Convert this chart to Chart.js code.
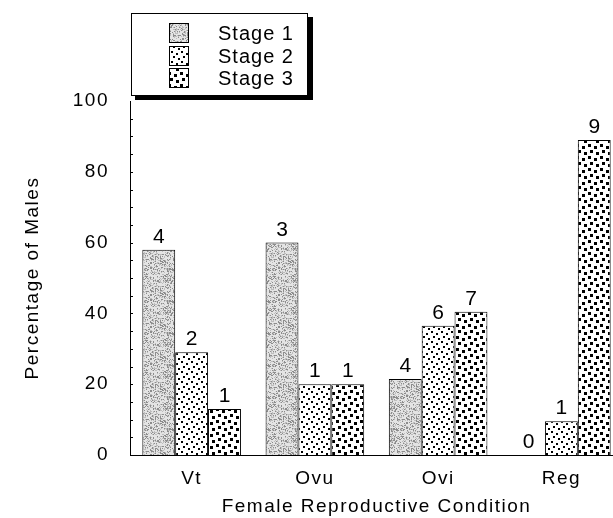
<!DOCTYPE html>
<html>
<head>
<meta charset="utf-8">
<script src="https://cdn.jsdelivr.net/npm/chart.js@4/dist/chart.umd.min.js"></script>
<style>
html, body { margin: 0; padding: 0; background: #fff; overflow: hidden; }
#wrap { width: 623px; height: 518px; }
</style>
</head>
<body>
<div id="wrap"><canvas id="chart"></canvas></div>
<script>
// values
const categories = ["Vt", "Ovu", "Ovi", "Reg"];
const stageNames = ["Stage 1", "Stage 2", "Stage 3"];
const stage1 = [58, 60, 21.5, 0];
const stage2 = [29, 20, 36.5, 9.5];
const stage3 = [13, 20, 40.5, 89];
const counts1 = [4, 3, 4, 0];
const counts2 = [2, 1, 6, 1];
const counts3 = [1, 1, 7, 9];

const FONT = "'Liberation Sans', Arial, sans-serif";

function makePattern(size, bg, draw) {
    let t = document.createElement("canvas");
    t.width = t.height = size;
    let g = t.getContext("2d");
    g.fillStyle = bg;
    g.fillRect(0, 0, size, size);
    draw(g);
    return document.getElementById("chart").getContext("2d").createPattern(t, "repeat");
}

// texture hash (only for the stipple look)
function grain(x, y) {
    let s = Math.sin(x * 12.9898 + y * 78.233) * 43758.5453;
    return s - Math.floor(s);
}

// fine gray stipple
let fillStage1 = makePattern(32, "#e4e4e4", (g) => {
    for (let y = 0; y < 32; y++) {
        for (let x = 0; x < 32; x++) {
            let h = grain(x, y);
            if (h < 0.22) { g.fillStyle = "#8c8c8c"; g.fillRect(x, y, 1, 1); }
            else if (h < 0.45) { g.fillStyle = "#bdbdbd"; g.fillRect(x, y, 1, 1); }
        }
    }
});
// small black dots
let fillStage2 = makePattern(10, "#fff", (g) => {
    g.fillStyle = "#000";
    [[1, 1], [6, 3], [3, 6], [8, 8]].forEach((p) => g.fillRect(p[0], p[1], 2, 2));
});
// bigger black squares
let fillStage3 = makePattern(12, "#fff", (g) => {
    g.fillStyle = "#000";
    [[0, 0], [6, 2], [2, 6], [8, 8]].forEach((p) => g.fillRect(p[0], p[1], 3, 3));
});

const spacing = {
    id: "spacing",
    beforeLayout(chart) { chart.ctx.letterSpacing = "1.5px"; },
    beforeDraw(chart) { chart.ctx.letterSpacing = "1.5px"; }
};

// inward minor ticks every 5 units
const minorTicks = {
    id: "minorTicks",
    afterDraw(chart) {
        let ctx = chart.ctx, y = chart.scales.y, x0 = chart.chartArea.left;
        ctx.save();
        ctx.strokeStyle = "#000";
        ctx.lineWidth = 1;
        for (let v = 5; v < 100; v += 5) {
            let py = Math.round(y.getPixelForValue(v)) + 0.5;
            ctx.beginPath();
            ctx.moveTo(x0, py);
            ctx.lineTo(x0 + 3, py);
            ctx.stroke();
        }
        ctx.restore();
    }
};

// counts above the bars
const barCounts = {
    id: "barCounts",
    afterDatasetsDraw(chart) {
        let ctx = chart.ctx;
        let allCounts = [counts1, counts2, counts3];
        ctx.save();
        ctx.letterSpacing = "0px";
        ctx.font = "21px " + FONT;
        ctx.fillStyle = "#000";
        ctx.textAlign = "center";
        ctx.textBaseline = "alphabetic";
        chart.data.datasets.forEach((ds, i) => {
            chart.getDatasetMeta(i).data.forEach((bar, j) => {
                ctx.fillText(allCounts[i][j], bar.x, bar.y - 7);
            });
        });
        ctx.restore();
    }
};

// boxed legend with drop shadow
const boxLegend = {
    id: "boxLegend",
    afterDraw(chart) {
        let ctx = chart.ctx;
        ctx.save();
        ctx.fillStyle = "#000";
        ctx.fillRect(135, 17, 178, 83);
        ctx.fillStyle = "#fff";
        ctx.fillRect(131, 13, 177, 83);
        ctx.strokeStyle = "#000";
        ctx.lineWidth = 1;
        ctx.strokeRect(131.5, 13.5, 176, 82);
        let rows = [23, 46, 68];
        ctx.font = "20px " + FONT;
        ctx.letterSpacing = "1px";
        ctx.textBaseline = "middle";
        chart.data.datasets.forEach((ds, i) => {
            ctx.fillStyle = ds.backgroundColor;
            ctx.fillRect(169, rows[i], 20, 20);
            ctx.strokeRect(169.5, rows[i] + 0.5, 19, 19);
            ctx.fillStyle = "#000";
            ctx.fillText(ds.label, 218, rows[i] + 11);
        });
        ctx.restore();
    }
};

function renderChart() {
    let ctx = document.getElementById("chart").getContext("2d");
    new Chart(ctx, {
        type: "bar",
        data: {
            labels: categories,
            datasets: [
                { label: stageNames[0], data: stage1, backgroundColor: fillStage1 },
                { label: stageNames[1], data: stage2, backgroundColor: fillStage2 },
                { label: stageNames[2], data: stage3, backgroundColor: fillStage3 }
            ]
        },
        options: {
            responsive: true,
            maintainAspectRatio: false,
            animation: false,
            devicePixelRatio: 1,
            layout: { padding: { top: 101, right: 0, bottom: 0, left: 0 } },
            datasets: {
                bar: {
                    borderColor: "#000",
                    borderWidth: 1,
                    borderSkipped: "bottom",
                    categoryPercentage: 0.8,
                    barPercentage: 1
                }
            },
            plugins: {
                legend: { display: false },
                tooltip: { enabled: false }
            },
            scales: {
                x: {
                    grid: { display: false },
                    border: { display: true, color: "#000", width: 1 },
                    ticks: { color: "#000", font: { family: FONT, size: 19 }, padding: 4 },
                    title: {
                        display: true,
                        text: "Female Reproductive Condition",
                        color: "#000",
                        font: { family: FONT, size: 19 },
                        padding: { top: 0, bottom: 0 }
                    },
                    afterFit(scale) { scale.height = 63; }
                },
                y: {
                    min: 0,
                    max: 100,
                    grid: { display: false },
                    border: { display: true, color: "#000", width: 1 },
                    ticks: { stepSize: 20, color: "#000", font: { family: FONT, size: 19 }, padding: 13 },
                    title: {
                        display: true,
                        text: "Percentage of Males",
                        color: "#000",
                        font: { family: FONT, size: 19 },
                        padding: { top: 21, bottom: 0 }
                    },
                    afterFit(scale) { scale.width = 130; }
                }
            }
        },
        plugins: [spacing, minorTicks, barCounts, boxLegend]
    });
}

document.addEventListener("DOMContentLoaded", renderChart);
</script>
</body>
</html>
